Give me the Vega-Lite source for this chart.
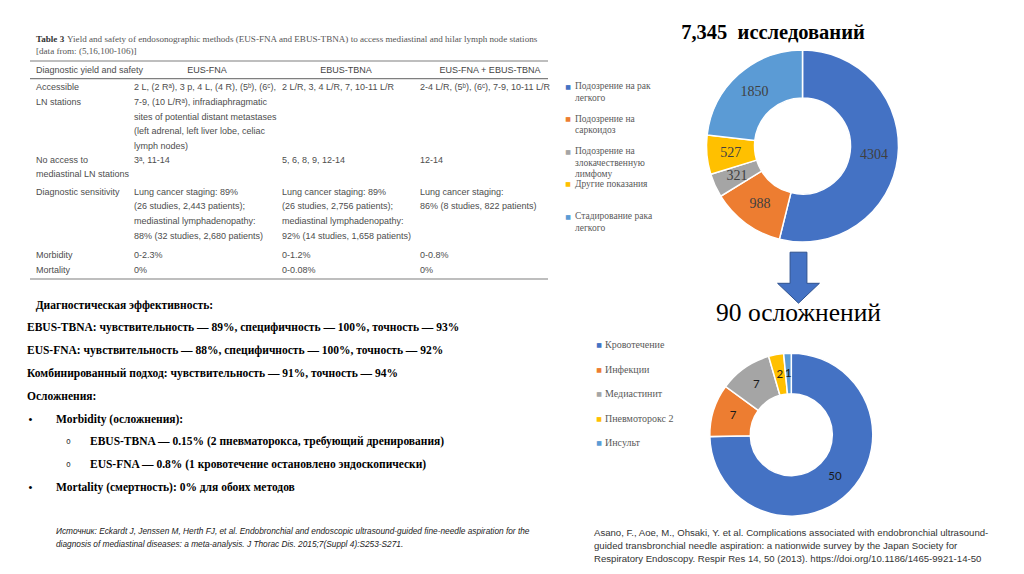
{
  "$schema": "https://vega.github.io/schema/vega-lite/v6.json",
  "background": "white",
  "padding": 0,
  "spacing": 0,
  "resolve": {"scale": {"x": "independent", "y": "independent", "color": "independent", "theta": "independent"}},
  "config": {"view": {"stroke": null}, "axis": {"disable": true}, "legend": {"disable": true}},
  "datasets": {
    "indications": [
      {"indication": "Подозрение на рак легкого", "label": "Подозрение на рак\nлегкого", "studies": 4304, "order": 1},
      {"indication": "Подозрение на саркоидоз", "label": "Подозрение на\nсаркоидоз", "studies": 988, "order": 2},
      {"indication": "Подозрение на злокачественную лимфому", "label": "Подозрение на\nзлокачественную\nлимфому", "studies": 321, "order": 3},
      {"indication": "Другие показания", "label": "Другие показания", "studies": 527, "order": 4},
      {"indication": "Стадирование рака легкого", "label": "Стадирование рака\nлегкого", "studies": 1850, "order": 5}
    ],
    "complications": [
      {"complication": "Кровотечение", "cases": 50, "order": 1},
      {"complication": "Инфекции", "cases": 7, "order": 2},
      {"complication": "Медиастинит", "cases": 7, "order": 3},
      {"complication": "Пневмоторокс 2", "cases": 2, "order": 4},
      {"complication": "Инсульт", "cases": 1, "order": 5}
    ]
  },
  "hconcat": [
    {
      "bounds": "flush",
      "spacing": 0,
      "resolve": {"scale": {"x": "independent", "y": "independent"}},
      "vconcat": [
        {
          "width": 564.7,
          "height": 292,
          "resolve": {"scale": {"x": "independent", "y": "shared"}},
          "layer": [
            {
              "data": {"values": [{"boundary": 0, "from": 0, "to": 4}, {"boundary": 1, "from": 0, "to": 4}, {"boundary": 6, "from": 0, "to": 4}]},
              "mark": {"type": "rule", "color": "#7f7f7f", "strokeWidth": 1.1},
              "encoding": {
                "y": {"field": "boundary", "type": "quantitative", "scale": {"domain": [-2, -1, 0, 1, 2, 3, 4, 5, 6], "range": [30.6, 42.6, 61, 78.6, 151, 183, 246, 261.5, 279], "nice": false, "zero": false}},
                "x": {"field": "from", "type": "quantitative", "scale": {"domain": [0, 4], "range": [30, 548], "nice": false, "zero": false}},
                "x2": {"field": "to"}
              }
            },
            {
              "data": {"values": [{"row": -2, "col": 0, "text": "Table 3"}]},
              "mark": {"type": "text", "align": "left", "baseline": "top", "dy": 4.5, "font": "Liberation Serif", "fontSize": 9.1, "fontWeight": "bold", "color": "#333333"},
              "encoding": {
                "x": {"field": "col", "type": "quantitative", "scale": {"domain": [0, 1, 2, 3, 4], "range": [36, 134, 282, 420, 548], "nice": false, "zero": false}},
                "y": {"field": "row", "type": "quantitative", "scale": {"domain": [-2, -1, 0, 1, 2, 3, 4, 5, 6], "range": [30.6, 42.6, 61, 78.6, 151, 183, 246, 261.5, 279], "nice": false, "zero": false}},
                "text": {"field": "text"}
              }
            },
            {
              "data": {"values": [{"row": -2, "col": 0, "text": "Yield and safety of endosonographic methods (EUS-FNA and EBUS-TBNA) to access mediastinal and hilar lymph node stations"}]},
              "mark": {"type": "text", "align": "left", "baseline": "top", "dy": 4.5, "dx": 31, "font": "Liberation Serif", "fontSize": 9.1, "color": "#555555"},
              "encoding": {
                "x": {"field": "col", "type": "quantitative", "scale": {"domain": [0, 1, 2, 3, 4], "range": [36, 134, 282, 420, 548], "nice": false, "zero": false}},
                "y": {"field": "row", "type": "quantitative"},
                "text": {"field": "text"}
              }
            },
            {
              "data": {"values": [{"row": -1, "col": 0, "text": "[data from: (5,16,100-106)]"}]},
              "mark": {"type": "text", "align": "left", "baseline": "top", "dy": 4.5, "font": "Liberation Serif", "fontSize": 9.1, "color": "#555555"},
              "encoding": {
                "x": {"field": "col", "type": "quantitative", "scale": {"domain": [0, 1, 2, 3, 4], "range": [36, 134, 282, 420, 548], "nice": false, "zero": false}},
                "y": {"field": "row", "type": "quantitative"},
                "text": {"field": "text"}
              }
            },
            {
              "data": {"values": [{"row": 0, "col": 1, "text": "EUS-FNA"}, {"row": 0, "col": 2, "text": "EBUS-TBNA"}, {"row": 0, "col": 3, "text": "EUS-FNA + EBUS-TBNA"}]},
              "mark": {"type": "text", "align": "center", "baseline": "top", "dy": 4.5, "font": "Liberation Sans", "fontSize": 9, "color": "#444444"},
              "encoding": {
                "x": {"field": "col", "type": "quantitative", "scale": {"domain": [1, 2, 3], "range": [207, 346, 490], "nice": false, "zero": false}},
                "y": {"field": "row", "type": "quantitative"},
                "text": {"field": "text"}
              }
            },
            {
              "data": {"values": [
                {"row": 0, "col": 0, "text": "Diagnostic yield and safety"},
                {"row": 1, "col": 0, "text": "Accessible\nLN stations"},
                {"row": 1, "col": 1, "text": "2 L, (2 Rᵃ), 3 p, 4 L, (4 R), (5ᵇ), (6ᶜ),\n7-9, (10 L/Rᵃ), infradiaphragmatic\nsites of potential distant metastases\n(left adrenal, left liver lobe, celiac\nlymph nodes)"},
                {"row": 1, "col": 2, "text": "2 L/R, 3, 4 L/R, 7, 10-11 L/R"},
                {"row": 1, "col": 3, "text": "2-4 L/R, (5ᵇ), (6ᶜ), 7-9, 10-11 L/R"},
                {"row": 2, "col": 0, "text": "No access to\nmediastinal LN stations"},
                {"row": 2, "col": 1, "text": "3ᵃ, 11-14"},
                {"row": 2, "col": 2, "text": "5, 6, 8, 9, 12-14"},
                {"row": 2, "col": 3, "text": "12-14"},
                {"row": 3, "col": 0, "text": "Diagnostic sensitivity"},
                {"row": 3, "col": 1, "text": "Lung cancer staging: 89%\n(26 studies, 2,443 patients);\nmediastinal lymphadenopathy:\n88% (32 studies, 2,680 patients)"},
                {"row": 3, "col": 2, "text": "Lung cancer staging: 89%\n(26 studies, 2,756 patients);\nmediastinal lymphadenopathy:\n92% (14 studies, 1,658 patients)"},
                {"row": 3, "col": 3, "text": "Lung cancer staging:\n86% (8 studies, 822 patients)"},
                {"row": 4, "col": 0, "text": "Morbidity"},
                {"row": 4, "col": 1, "text": "0-2.3%"},
                {"row": 4, "col": 2, "text": "0-1.2%"},
                {"row": 4, "col": 3, "text": "0-0.8%"},
                {"row": 5, "col": 0, "text": "Mortality"},
                {"row": 5, "col": 1, "text": "0%"},
                {"row": 5, "col": 2, "text": "0-0.08%"},
                {"row": 5, "col": 3, "text": "0%"}
              ]},
              "mark": {"type": "text", "align": "left", "baseline": "top", "dy": 4.5, "font": "Liberation Sans", "fontSize": 9, "color": "#4d4d4d", "lineBreak": "\n", "lineHeight": 14.8},
              "encoding": {
                "x": {"field": "col", "type": "quantitative", "scale": {"domain": [0, 1, 2, 3, 4], "range": [36, 134, 282, 420, 548], "nice": false, "zero": false}},
                "y": {"field": "row", "type": "quantitative"},
                "text": {"field": "text"}
              }
            }
          ]
        },
        {
          "width": 564.7,
          "height": 218,
          "resolve": {"scale": {"x": "independent", "y": "shared"}},
          "layer": [
            {
              "data": {"values": [
                {"line": 0, "level": 0, "text": "\u200b\u00a0\u00a0\u00a0Диагностическая эффективность:"},
                {"line": 1, "level": 0, "text": "EBUS-TBNA: чувствительность — 89%, специфичность — 100%, точность — 93%"},
                {"line": 2, "level": 0, "text": "EUS-FNA: чувствительность — 88%, специфичность — 100%, точность — 92%"},
                {"line": 3, "level": 0, "text": "Комбинированный подход: чувствительность — 91%, точность — 94%"},
                {"line": 4, "level": 0, "text": "Осложнения:"},
                {"line": 5, "level": 1, "text": "Morbidity (осложнения):"},
                {"line": 6, "level": 2, "text": "EBUS-TBNA — 0.15% (2 пневматорокса, требующий дренирования)"},
                {"line": 7, "level": 2, "text": "EUS-FNA — 0.8% (1 кровотечение остановлено эндоскопически)"},
                {"line": 8, "level": 1, "text": "Mortality (смертность): 0% для обоих методов"}
              ]},
              "mark": {"type": "text", "align": "left", "baseline": "middle", "font": "Liberation Serif", "fontSize": 11.5, "fontWeight": "bold", "color": "#000000"},
              "encoding": {
                "x": {"field": "level", "type": "quantitative", "scale": {"domain": [0, 1, 2], "range": [27, 56, 90], "nice": false, "zero": false}},
                "y": {"field": "line", "type": "quantitative", "scale": {"domain": [0, 8], "range": [13.5, 195.9], "nice": false, "zero": false}},
                "text": {"field": "text"}
              }
            },
            {
              "data": {"values": [{"line": 5, "level": 1, "marker": "•"}, {"line": 8, "level": 1, "marker": "•"}]},
              "mark": {"type": "text", "align": "left", "baseline": "middle", "font": "Liberation Sans", "fontSize": 11, "color": "#000000"},
              "encoding": {
                "x": {"field": "level", "type": "quantitative", "scale": {"domain": [1, 2], "range": [28.6, 66], "nice": false, "zero": false}},
                "y": {"field": "line", "type": "quantitative"},
                "text": {"field": "marker"}
              }
            },
            {
              "data": {"values": [{"line": 6, "level": 2, "marker": "o"}, {"line": 7, "level": 2, "marker": "o"}]},
              "mark": {"type": "text", "align": "left", "baseline": "middle", "font": "DejaVu Sans Mono", "fontSize": 8, "color": "#333333"},
              "encoding": {
                "x": {"field": "level", "type": "quantitative", "scale": {"domain": [1, 2], "range": [28.6, 66], "nice": false, "zero": false}},
                "y": {"field": "line", "type": "quantitative"},
                "text": {"field": "marker"}
              }
            }
          ]
        },
        {
          "width": 112,
          "height": 64,
          "data": {"values": [{"source": "Источник: Eckardt J, Jenssen M, Herth FJ, et al. Endobronchial and endoscopic ultrasound-guided fine-needle aspiration for the\ndiagnosis of mediastinal diseases: a meta-analysis. J Thorac Dis. 2015;7(Suppl 4):S253-S271."}]},
          "mark": {"type": "text", "align": "left", "baseline": "top", "dy": -14.8, "font": "Liberation Sans", "fontStyle": "italic", "fontSize": 8.3, "color": "#222222", "lineBreak": "\n", "lineHeight": 12.5},
          "encoding": {"text": {"field": "source"}}
        }
      ]
    },
    {
      "bounds": "flush",
      "spacing": 0,
      "resolve": {"scale": {"x": "independent", "y": "independent", "color": "independent", "theta": "independent"}},
      "vconcat": [
        {
          "width": 384,
          "height": 49.5,
          "data": {"values": [{"title": "7,345\u00a0 исследований"}]},
          "mark": {"type": "text", "align": "center", "baseline": "middle", "dy": 8, "font": "Liberation Serif", "fontSize": 20.5, "fontWeight": "bold", "color": "#000000"},
          "encoding": {"text": {"field": "title"}}
        },
        {
          "width": 443,
          "height": 192,
          "data": {"name": "indications"},
          "layer": [
            {
              "mark": {"type": "arc", "outerRadius": 96, "innerRadius": 48, "stroke": "white", "strokeWidth": 1.5},
              "encoding": {
                "theta": {"field": "studies", "type": "quantitative", "stack": true},
                "order": {"field": "order", "type": "quantitative"},
                "color": {"field": "indication", "type": "nominal", "scale": {"domain": ["Подозрение на рак легкого", "Подозрение на саркоидоз", "Подозрение на злокачественную лимфому", "Другие показания", "Стадирование рака легкого"], "range": ["#4472C4", "#ED7D31", "#A5A5A5", "#FFC000", "#5B9BD5"]}, "legend": null}
              }
            },
            {
              "mark": {"type": "text", "radius": 72, "font": "Liberation Serif", "fontSize": 14, "color": "#404040", "baseline": "middle", "align": "center"},
              "encoding": {
                "theta": {"field": "studies", "type": "quantitative", "stack": true},
                "order": {"field": "order", "type": "quantitative"},
                "detail": {"field": "indication", "type": "nominal"},
                "text": {"field": "studies", "type": "quantitative"}
              }
            },
            {
              "mark": {"type": "text", "text": "■", "align": "center", "baseline": "middle", "dx": -234.5, "font": "DejaVu Sans", "fontSize": 6},
              "encoding": {
                "y": {"field": "order", "type": "quantitative", "scale": {"domain": [1, 5], "range": [36.5, 166.5], "nice": false, "zero": false}},
                "color": {"field": "indication", "type": "nominal"}
              }
            },
            {
              "mark": {"type": "text", "align": "left", "baseline": "top", "dx": -227.5, "dy": -5.2, "font": "Liberation Serif", "fontSize": 9.5, "color": "#595959", "lineBreak": "\n", "lineHeight": 11.5},
              "encoding": {
                "y": {"field": "order", "type": "quantitative"},
                "text": {"field": "label"}
              }
            }
          ]
        },
        {
          "width": 435,
          "height": 71.4,
          "data": {"values": [{"link": "7,345 исследований → 90 осложнений"}]},
          "mark": {"type": "point", "shape": "M-0.33,-1L0.33,-1L0.33,0.22L0.82,0.22L0,1L-0.82,0.22L-0.33,0.22Z", "size": 2601, "filled": true, "fill": "#4472C4", "stroke": "#2F528F", "strokeWidth": 1, "opacity": 1},
          "encoding": {"tooltip": {"field": "link"}}
        },
        {
          "width": 435,
          "height": 39.1,
          "data": {"values": [{"title": "90 осложнений"}]},
          "mark": {"type": "text", "align": "center", "baseline": "middle", "dy": -20.5, "font": "Liberation Serif", "fontSize": 25.5, "color": "#000000"},
          "encoding": {"text": {"field": "title"}}
        },
        {
          "width": 420.6,
          "height": 161.4,
          "data": {"name": "complications"},
          "layer": [
            {
              "mark": {"type": "arc", "outerRadius": 81.5, "innerRadius": 41, "stroke": "white", "strokeWidth": 1.5},
              "encoding": {
                "theta": {"field": "cases", "type": "quantitative", "stack": true},
                "order": {"field": "order", "type": "quantitative"},
                "color": {"field": "complication", "type": "nominal", "scale": {"domain": ["Кровотечение", "Инфекции", "Медиастинит", "Пневмоторокс 2", "Инсульт"], "range": ["#4472C4", "#ED7D31", "#A5A5A5", "#FFC000", "#5B9BD5"]}, "legend": null}
              }
            },
            {
              "mark": {"type": "text", "radius": 61, "font": "Lato", "fontSize": 11.5, "color": "#1a1a1a", "baseline": "middle", "align": "center"},
              "encoding": {
                "theta": {"field": "cases", "type": "quantitative", "stack": true},
                "order": {"field": "order", "type": "quantitative"},
                "detail": {"field": "complication", "type": "nominal"},
                "text": {"field": "cases", "type": "quantitative"}
              }
            },
            {
              "mark": {"type": "text", "text": "■", "align": "center", "baseline": "middle", "dx": -192.3, "font": "DejaVu Sans", "fontSize": 6},
              "encoding": {
                "y": {"field": "order", "type": "quantitative", "scale": {"domain": [1, 5], "range": [-9, 89], "nice": false, "zero": false}},
                "color": {"field": "complication", "type": "nominal"}
              }
            },
            {
              "mark": {"type": "text", "align": "left", "baseline": "middle", "dx": -186.3, "font": "Liberation Serif", "fontSize": 10, "color": "#595959"},
              "encoding": {
                "y": {"field": "order", "type": "quantitative"},
                "text": {"field": "complication"}
              }
            }
          ]
        },
        {
          "width": 26,
          "height": 60.6,
          "data": {"values": [{"source": "Asano, F., Aoe, M., Ohsaki, Y. et al. Complications associated with endobronchial ultrasound-\nguided transbronchial needle aspiration: a nationwide survey by the Japan Society for\nRespiratory Endoscopy. Respir Res 14, 50 (2013). https://doi.org/10.1186/1465-9921-14-50"}]},
          "mark": {"type": "text", "align": "left", "baseline": "top", "dy": -18.3, "font": "Liberation Sans", "fontSize": 9.6, "color": "#333333", "lineBreak": "\n", "lineHeight": 13},
          "encoding": {"text": {"field": "source"}}
        }
      ]
    }
  ]
}
